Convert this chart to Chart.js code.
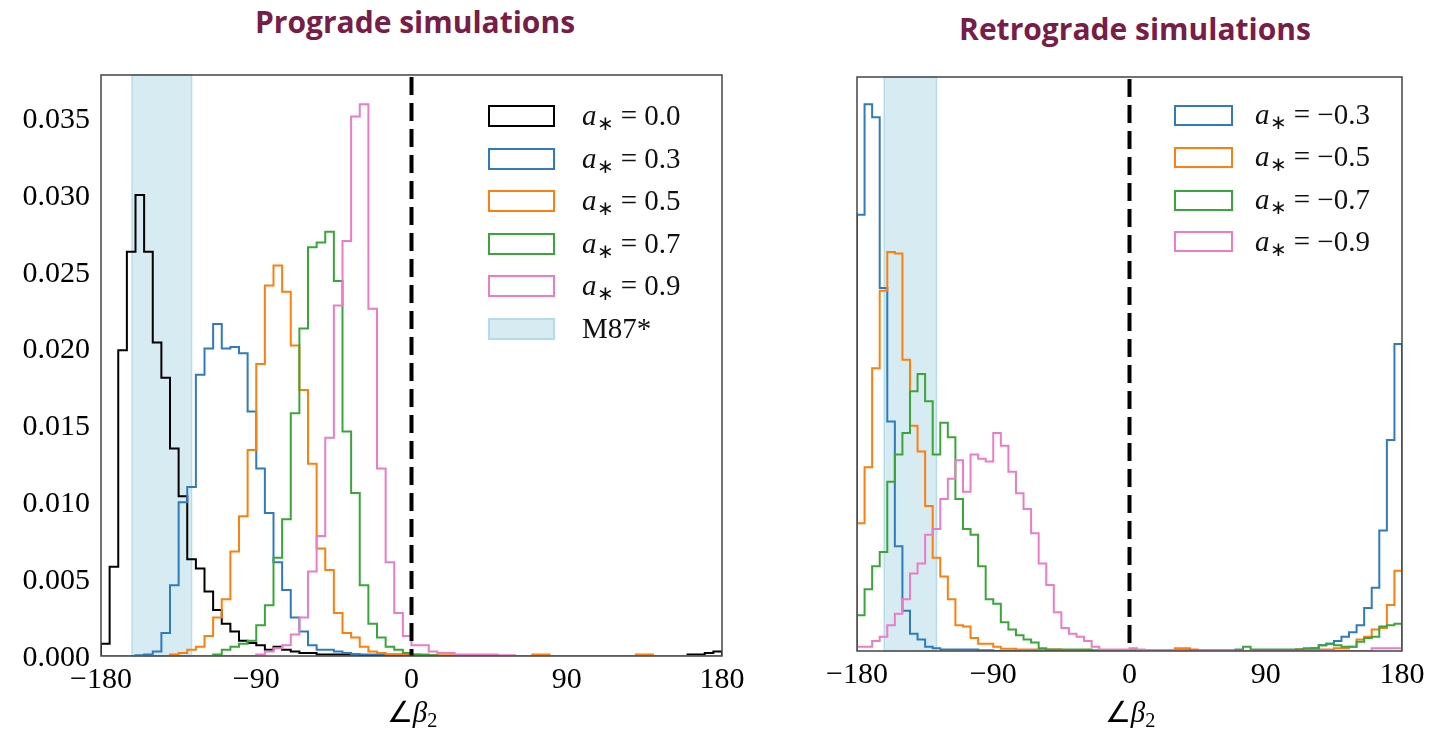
<!DOCTYPE html>
<html>
<head>
<meta charset="utf-8">
<script src="https://cdn.jsdelivr.net/npm/chart.js@4.4.1/dist/chart.umd.min.js"></script>
<style>
  body { margin: 0; background: #fff; width: 1431px; height: 731px; overflow: hidden; position: relative; font-family: "Liberation Serif", serif; }
  canvas { position: absolute; top: 0; }
  .title { position: absolute; font-family: "Open Sans", sans-serif; font-weight: 700; font-size: 30px; line-height: 30px; color: #781c48; white-space: nowrap; transform: translateX(-50%); }
  .box { position: absolute; box-sizing: border-box; }
  .lbl { position: absolute; font-size: 29px; line-height: 30px; color: #111; white-space: nowrap; }
  .lbl sub { font-size: 0.7em; vertical-align: -0.25em; line-height: 0; }
  .xlab { position: absolute; font-size: 29px; line-height: 30px; transform: translateX(-50%); white-space: nowrap; }
  .xlab sub { font-size: 0.7em; vertical-align: -0.25em; line-height: 0; }
</style>
</head>
<body>
<div class="title" style="left:415px; top:7px;">Prograde simulations</div>
<div class="title" style="left:1135px; top:14px;">Retrograde simulations</div>
<canvas id="chartPro" width="780" height="731" style="left:0; width:780px; height:731px;"></canvas>
<canvas id="chartRet" width="691" height="731" style="left:740px; width:691px; height:731px;"></canvas>
<div class="xlab" style="left:412px; top:697px;">∠<i>β</i><sub>2</sub></div>
<div class="xlab" style="left:1130px; top:697px;">∠<i>β</i><sub>2</sub></div>
<div id="legends"></div>
<script>
// 5 degree bins, left edges
const BIN_EDGES = [
  -180, -175, -170, -165, -160, -155, -150, -145, -140, -135, -130, -125,
  -120, -115, -110, -105, -100, -95, -90, -85, -80, -75, -70, -65,
  -60, -55, -50, -45, -40, -35, -30, -25, -20, -15, -10, -5,
  0, 5, 10, 15, 20, 25, 30, 35, 40, 45, 50, 55,
  60, 65, 70, 75, 80, 85, 90, 95, 100, 105, 110, 115,
  120, 125, 130, 135, 140, 145, 150, 155, 160, 165, 170, 175,
];
const X_TICKS = [-180, -90, 0, 90, 180];
const Y_TICKS = [0, 0.005, 0.010, 0.015, 0.020, 0.025, 0.030, 0.035];
const M87_BAND = [-162, -127.5];

// prograde histograms
const PRO_LABELS = ['0.0', '0.3', '0.5', '0.7', '0.9'];
const PRO_A00 = [
  0.0008, 0.0058, 0.0199, 0.0263, 0.0300, 0.0263, 0.0204, 0.0181, 0.0135, 0.0104,
  0.0063, 0.0057, 0.0042, 0.0030, 0.0021, 0.0016, 0.0010, 0.00085, 0.0007, 0.0004,
  0.0006, 0.0004, 0.0003, 0.0002, 0.0002, 0.0001, 0.0001, 0.0001, 0.0001, 0.0001,
  0.00005, 0.00005, 0.00005, 0.00005, 0.00005, 0, 0, 0, 0, 0,
  0, 0, 0, 0, 0, 0, 0, 0, 0, 0,
  0, 0, 0, 0, 0, 0, 0, 0, 0, 0,
  0, 0, 0, 0, 0, 0, 0, 0, 0.0001, 0.0001,
  0.0002, 0.0003,
];
const PRO_A03 = [
  0, 0, 0, 0, 0.00005, 0.0001, 0.0003, 0.0015, 0.0046, 0.0100,
  0.0110, 0.0183, 0.0200, 0.0216, 0.0200, 0.0201, 0.0197, 0.0159, 0.0122, 0.0093,
  0.0061, 0.0043, 0.0025, 0.0016, 0.0007, 0.0004, 0.0004, 0.0003, 0.0002, 0.0001,
  0.0001, 0.0001, 0.0001, 0.0001, 0.0001, 0.0001, 0, 0, 0, 0,
  0, 0, 0, 0, 0, 0, 0, 0, 0, 0,
  0, 0, 0, 0, 0, 0, 0, 0, 0, 0,
  0, 0, 0, 0, 0, 0, 0, 0, 0, 0,
  0, 0,
];
const PRO_A05 = [
  0, 0, 0, 0, 0, 0, 0, 0, 0.0001, 0.0002,
  0.0004, 0.0006, 0.0013, 0.0025, 0.0037, 0.0068, 0.0091, 0.0134, 0.0190, 0.0241,
  0.0254, 0.0237, 0.0202, 0.0173, 0.0125, 0.0070, 0.0056, 0.0028, 0.0015, 0.0012,
  0.0006, 0.0003, 0.0002, 0.0001, 0.0001, 0.0001, 0.0001, 0.00005, 0.00005, 0.00005,
  0.00005, 0, 0, 0, 0, 0, 0, 0, 0, 0,
  0.0001, 0.0001, 0, 0, 0, 0, 0, 0, 0, 0,
  0, 0, 0.0001, 0.0001, 0, 0, 0, 0, 0, 0,
  0, 0,
];
const PRO_A07 = [
  0, 0, 0, 0, 0, 0, 0, 0, 0, 0,
  0, 0, 0, 0.0001, 0.0004, 0.0006, 0.0008, 0.0010, 0.0020, 0.0033,
  0.0064, 0.0089, 0.0158, 0.0213, 0.0266, 0.0269, 0.0276, 0.0244, 0.0146, 0.0106,
  0.0046, 0.0021, 0.0012, 0.0006, 0.0004, 0.0002, 0.0001, 0.0001, 0.00005, 0,
  0, 0, 0, 0, 0, 0, 0, 0, 0, 0,
  0, 0, 0, 0, 0, 0, 0, 0, 0, 0,
  0, 0, 0, 0, 0, 0, 0, 0, 0, 0,
  0, 0,
];
const PRO_A09 = [
  0, 0, 0, 0, 0, 0, 0, 0, 0, 0,
  0, 0, 0, 0, 0, 0, 0, 0, 0.0001, 0.0003,
  0.0005, 0.0007, 0.0014, 0.0025, 0.0055, 0.0078, 0.0142, 0.0228, 0.0270, 0.0351,
  0.0359, 0.0226, 0.0122, 0.0061, 0.0028, 0.0013, 0.0007, 0.0007, 0.0003, 0.0002,
  0.0002, 0.0001, 0.0001, 0.0001, 0.0001, 0.0001, 0.00005, 0.00005, 0, 0,
  0, 0, 0, 0, 0, 0, 0, 0, 0, 0,
  0, 0, 0, 0, 0, 0, 0, 0, 0, 0,
  0, 0,
];

// retrograde histograms
const RET_LABELS = ['−0.3', '−0.5', '−0.7', '−0.9'];
const RET_M03 = [
  0.0304, 0.0381, 0.0372, 0.0253, 0.0160, 0.0073, 0.0028, 0.0012, 0.0008, 0.0003,
  0.0002, 0.0001, 0.0001, 0.0001, 0.0001, 0.0001, 0.00005, 0.00005, 0, 0,
  0, 0, 0, 0, 0, 0, 0, 0, 0, 0,
  0, 0, 0, 0, 0, 0, 0, 0, 0, 0,
  0, 0, 0, 0, 0, 0, 0, 0, 0, 0,
  0, 0, 0, 0, 0, 0, 0.00005, 0.00005, 0.0001, 0.0001,
  0.0002, 0.0004, 0.0005, 0.0007, 0.0010, 0.0013, 0.0018, 0.0030, 0.0044, 0.0084,
  0.0147, 0.0214,
];
const RET_M05 = [
  0.0089, 0.0128, 0.0197, 0.0251, 0.0278, 0.0277, 0.0203, 0.0157, 0.0139, 0.0101,
  0.0065, 0.0052, 0.0036, 0.0018, 0.0017, 0.0009, 0.0005, 0.0005, 0.0003, 0.00015,
  0.00015, 0.0001, 0.0001, 0.0001, 0.0001, 0.0001, 0.0001, 0.00005, 0.00005, 0.00005,
  0.00005, 0, 0, 0, 0, 0, 0, 0, 0, 0,
  0, 0, 0.0002, 0.0002, 0.0001, 0, 0, 0, 0, 0,
  0, 0, 0, 0, 0, 0, 0, 0.00005, 0.0001, 0.0001,
  0.0001, 0.0001, 0.0001, 0.0002, 0.0002, 0.0003, 0.0008, 0.0010, 0.0015, 0.0016,
  0.0032, 0.0056,
];
const RET_M07 = [
  0.0025, 0.0043, 0.0059, 0.0069, 0.0118, 0.0137, 0.0152, 0.0181, 0.0193, 0.0174,
  0.0137, 0.0159, 0.0149, 0.0106, 0.0085, 0.0081, 0.0059, 0.0036, 0.0033, 0.0020,
  0.0015, 0.0011, 0.0008, 0.0006, 0.0002, 0.0001, 0.0001, 0.0001, 0.0001, 0.0001,
  0.0001, 0.00005, 0.00005, 0.00005, 0.00005, 0.00005, 0.00005, 0.00005, 0.00005, 0.00005,
  0.00005, 0.00005, 0.00005, 0.00005, 0.00005, 0.00005, 0.00005, 0.00005, 0.00005, 0.00005,
  0.0001, 0.0003, 0.0001, 0.0001, 0.0001, 0.0001, 0.0001, 0.0001, 0.0001, 0.0002,
  0.0002, 0.0004, 0.0005, 0.0004, 0.0003, 0.0003, 0.00065, 0.0009, 0.0010, 0.0017,
  0.0018, 0.0019,
];
const RET_M09 = [
  0.0003, 0.0003, 0.0007, 0.0010, 0.0018, 0.0026, 0.0036, 0.0054, 0.0061, 0.0081,
  0.0085, 0.0106, 0.0120, 0.0133, 0.0111, 0.0137, 0.0134, 0.0132, 0.0152, 0.0143,
  0.0125, 0.0110, 0.0099, 0.0082, 0.0061, 0.0046, 0.0027, 0.0016, 0.0012, 0.0010,
  0.0007, 0.0003, 0.0001, 0.0001, 0.0001, 0.0001, 0.0002, 0.0001, 0.00005, 0.00005,
  0.00005, 0.00005, 0, 0, 0, 0, 0, 0, 0, 0,
  0, 0, 0, 0, 0, 0, 0, 0, 0, 0,
  0, 0, 0, 0, 0, 0, 0, 0, 0.0002, 0.0002,
  0.0002, 0.0002,
];

const BLACK = '#000000';
const BLUE = '#2f7bbd';
const ORANGE = '#ff7f0e';
const GREEN = '#3aa63a';
const PINK = '#ec7cc6';
const BAND_FILL = 'rgba(173,216,230,0.5)';
const BAND_EDGE = 'rgba(173,216,230,0.85)';

function stepPoints(vals) {
  const pts = [{ x: -180, y: 0 }];
  vals.forEach((v, i) => pts.push({ x: BIN_EDGES[i], y: v }));
  pts.push({ x: 180, y: 0 });
  return pts;
}

function fmtDeg(v) { return v < 0 ? `−${Math.abs(v)}` : `${v}`; }

const guides = {
  id: 'guides',
  beforeDatasetsDraw(chart) {
    const { ctx, chartArea: a, scales: { x } } = chart;
    const x1 = x.getPixelForValue(M87_BAND[0]);
    const x2 = x.getPixelForValue(M87_BAND[1]);
    ctx.save();
    ctx.fillStyle = BAND_FILL;
    ctx.fillRect(x1, a.top, x2 - x1, a.bottom - a.top);
    ctx.strokeStyle = BAND_EDGE;
    ctx.lineWidth = 1.5;
    ctx.strokeRect(x1, a.top, x2 - x1, a.bottom - a.top);
    ctx.restore();
  },
  afterDatasetsDraw(chart) {
    const { ctx, chartArea: a, scales: { x } } = chart;
    const x0 = x.getPixelForValue(0);
    ctx.save();
    ctx.strokeStyle = '#000';
    ctx.lineWidth = 4;
    ctx.setLineDash([18, 8]);
    ctx.beginPath();
    ctx.moveTo(x0, a.top + 2);
    ctx.lineTo(x0, a.bottom);
    ctx.stroke();
    ctx.setLineDash([]);
    ctx.strokeStyle = '#444';
    ctx.lineWidth = 1.5;
    ctx.strokeRect(a.left, a.top, a.right - a.left, a.bottom - a.top);
    ctx.restore();
  },
};

function makeChart(id, series, colors, cfg) {
  return new Chart(document.getElementById(id), {
    type: 'line',
    data: {
      datasets: series.map((vals, i) => ({
        data: stepPoints(vals),
        borderColor: colors[i],
        borderWidth: 2,
        stepped: true,
        pointRadius: 0,
        fill: false,
        order: -i,
      })),
    },
    options: {
      responsive: false,
      animation: false,
      events: [],
      layout: { padding: { top: cfg.top, right: cfg.right, bottom: 0, left: 0 } },
      plugins: { legend: { display: false }, tooltip: { enabled: false } },
      scales: {
        x: {
          type: 'linear',
          min: -180,
          max: 180,
          grid: { display: false, drawTicks: false },
          border: { display: false },
          afterBuildTicks: s => { s.ticks = X_TICKS.map(v => ({ value: v })); },
          afterFit: s => { s.height = cfg.xHeight; },
          ticks: {
            autoSkip: false,
            maxRotation: 0,
            padding: 6,
            color: '#000',
            font: { family: 'Liberation Serif', size: 30 },
            callback: v => fmtDeg(v),
          },
        },
        y: {
          min: 0,
          max: cfg.yMax,
          grid: { display: false, drawTicks: false },
          border: { display: false },
          afterBuildTicks: s => { s.ticks = Y_TICKS.map(v => ({ value: v })); },
          afterFit: s => { s.width = cfg.yWidth; },
          ticks: {
            display: cfg.showY,
            padding: 11,
            labelOffset: 2,
            color: '#000',
            font: { family: 'Liberation Serif', size: 30 },
            callback: v => v.toFixed(3),
          },
        },
      },
    },
    plugins: [guides],
  });
}

function addLegend(entries, pos) {
  const host = document.getElementById('legends');
  entries.forEach((e, i) => {
    const cy = pos.rows[i];
    const box = document.createElement('div');
    box.className = 'box';
    box.style.left = `${pos.boxX}px`;
    box.style.top = `${cy - pos.boxH / 2}px`;
    box.style.width = `${pos.boxW}px`;
    box.style.height = `${pos.boxH}px`;
    if (e.fill) {
      box.style.background = e.fill;
      box.style.border = `2px solid ${BAND_EDGE}`;
    } else {
      box.style.border = `2.5px solid ${e.color}`;
    }
    host.appendChild(box);
    const lbl = document.createElement('div');
    lbl.className = 'lbl';
    lbl.style.left = `${pos.textX}px`;
    lbl.style.top = `${cy - 16}px`;
    lbl.innerHTML = e.text;
    host.appendChild(lbl);
  });
}

const astar = v => `<i>a</i><sub>∗</sub>&nbsp;=&nbsp;${v}`;

document.addEventListener('DOMContentLoaded', () => {
  const proColors = [BLACK, BLUE, ORANGE, GREEN, PINK];
  const retColors = [BLUE, ORANGE, GREEN, PINK];

  makeChart('chartPro', [PRO_A00, PRO_A03, PRO_A05, PRO_A07, PRO_A09], proColors,
    { top: 75, right: 58, xHeight: 75, yWidth: 101, yMax: 0.0378, showY: true });
  makeChart('chartRet', [RET_M03, RET_M05, RET_M07, RET_M09], retColors,
    { top: 77, right: 29, xHeight: 80, yWidth: 117, yMax: 0.040, showY: false });

  const proEntries = PRO_LABELS.map((l, i) => ({ color: proColors[i], text: astar(l) }));
  proEntries.push({ fill: BAND_FILL, text: 'M87*' });
  addLegend(proEntries, { boxX: 488, boxW: 67, boxH: 22, textX: 582, rows: [116, 158.5, 201, 243.5, 286, 328.5] });

  const retEntries = RET_LABELS.map((l, i) => ({ color: retColors[i], text: astar(l) }));
  addLegend(retEntries, { boxX: 1174, boxW: 59, boxH: 21, textX: 1255, rows: [115, 157.3, 200, 241.7] });
});
</script>
</body>
</html>
